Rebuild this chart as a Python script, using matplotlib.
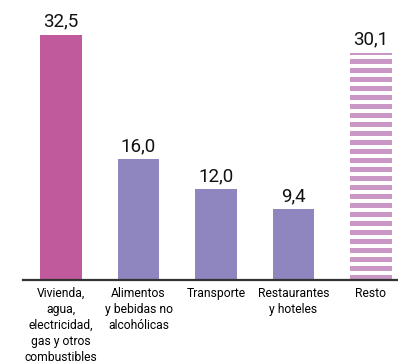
import numpy as np
import matplotlib.pyplot as plt

plt.rcParams['font.family'] = ['Roboto', 'DejaVu Sans']

categories = ['Vivienda,\nagua,\nelectricidad,\ngas y otros\ncombustibles',
              'Alimentos\ny bebidas no\nalcohólicas',
              'Transporte',
              'Restaurantes\ny hoteles',
              'Resto']
values = [32.5, 16.0, 12.0, 9.4, 30.1]
labels = ['32,5', '16,0', '12,0', '9,4', '30,1']

pink = '#C05A9C'
purple = '#8F86BF'
stripe = '#C996C6'

fig = plt.figure(figsize=(3.98, 3.63), dpi=100)
ax = fig.add_axes([0.058, 0.2287, 0.942, 0.7713])

x = np.arange(len(values))
w = 0.54
ax.bar(x[0], values[0], width=w, color=pink)
ax.bar(x[1:4], values[1:4], width=w, color=purple)

# striped last bar
period = 1.19
bottoms = np.arange(0, values[4], period)
heights = np.minimum(0.66, values[4] - bottoms)
ax.bar(np.full(len(bottoms), x[4]), heights, bottom=bottoms, width=w, color=stripe)

for xi, v, lab in zip(x, values, labels):
    ax.text(xi, v + 0.55, lab, ha='center', va='bottom', fontsize=13.5, color='#111111')

ax.set_xlim(-0.49, 4.35)
ax.set_ylim(0, 37.1)
ax.set_xticks(x)
ax.set_xticklabels(categories, fontsize=8.7, linespacing=1.3, va='top')
ax.tick_params(axis='x', length=0, pad=5)
ax.set_yticks([])
for s in ['top', 'right', 'left']:
    ax.spines[s].set_visible(False)
ax.spines['bottom'].set_color('#333333')
ax.spines['bottom'].set_linewidth(1.6)

fig.savefig('out.png', dpi=100)
